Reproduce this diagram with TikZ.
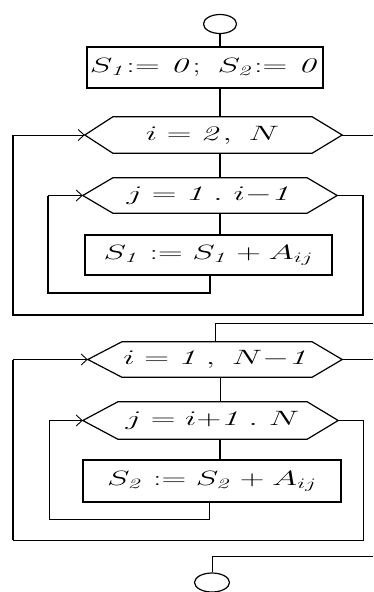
\documentclass[tikz,border=0pt]{standalone}
\usetikzlibrary{arrows.meta,shapes.geometric}
\newcommand{\drawhex}[3]{%
  \path (#1.west) ++(-#2,0) coordinate (#1-w);
  \path (#1.east) ++(#3,0) coordinate (#1-e);
  \draw[hexline] (#1.north west) -- (#1.north east) -- (#1-e) -- (#1.south east)
     -- (#1.south west) -- (#1-w) -- cycle;}
\newcommand{\hstretch}[1]{\scalebox{1.65}[1]{#1}}
\begin{document}
\begin{tikzpicture}[x=1pt,y=-1pt,
  txt/.style={font=\fontsize{22}{26}\selectfont},
  box/.style={draw, line width=1.3pt, inner sep=0pt, txt},
  hexbody/.style={inner sep=0pt, txt},
  hexline/.style={line width=1.2pt, line join=miter},
  term/.style={draw, ellipse, inner sep=0pt, line width=1.2pt},
  thk/.style={line width=1.8pt},
  thn/.style={line width=1pt},
  arr/.style={-{Straight Barb[length=6pt,width=11pt,line width=0.9pt]}}]
\useasboundingbox (0,0) rectangle (373,592);

% top part
\node[term, minimum width=33pt, minimum height=19pt] (start) at (220,24) {};
\node[box, minimum width=236pt, minimum height=41pt] (b1) at (205,67.5)
  {\hstretch{$S_{\mathit{1}}{:=}\ \mathit{0};\ S_{\mathit{2}}{:=}\ \mathit{0}$}};
\node[hexbody, minimum width=199pt, minimum height=36pt] (h1) at (212.5,135)
  {\hstretch{$i = \mathit{2},\ N$}};
\drawhex{h1}{28}{30}
\node[hexbody, minimum width=194pt, minimum height=35pt] (h2) at (210,195.5)
  {\hstretch{$j = \mathit{1}\,.\ i{-}\mathit{1}$}};
\drawhex{h2}{30}{30}
\node[box, minimum width=247pt, minimum height=40pt] (b2) at (208.5,255)
  {\hstretch{$S_{\mathit{1}} := S_{\mathit{1}} + A_{ij}$}};

\coordinate (x1) at (373,135);
\coordinate (o1) at (13,315);
\coordinate (r1) at (210,293);
\coordinate (l1) at (48,293);

\draw[thk] (start.south) -- (b1.north -| start.south);
\draw[thk] (b1.south -| start.south) -- (h1.north -| start.south);
\draw[thk] (h1.south -| start.south) -- (h2.north -| start.south);
\draw[thk] (h2.south -| start.south) -- (b2.north -| start.south);
\draw[thn] (h1-e) -- (x1);
\draw[thk] (h2-e) -- ++(26,0) |- (o1) -- (o1 |- h1-w);
\draw[thn,arr] (o1 |- h1-w) -- (h1-w);
\draw[thk] (b2.south -| r1) -- (r1) -- (l1) -- (l1 |- h2-w);
\draw[thn,arr] (l1 |- h2-w) -- (h2-w);

% bottom part
\node[hexbody, minimum width=190pt, minimum height=35pt] (h3) at (217,359.5)
  {\hstretch{$i = \mathit{1}\,,\ N{-}\mathit{1}$}};
\drawhex{h3}{34}{30}
\node[hexbody, minimum width=189pt, minimum height=37pt] (h4) at (212.5,420.5)
  {\hstretch{$j = i{+}\mathit{1}\,.\ N$}};
\drawhex{h4}{35}{31}
\node[box, minimum width=258pt, minimum height=42pt] (b3) at (212,481)
  {\hstretch{$S_{\mathit{2}} := S_{\mathit{2}} + A_{ij}$}};
\node[term, minimum width=35pt, minimum height=19pt] (end) at (212,582.5) {};

\coordinate (in2) at (373,323);
\coordinate (k2) at (215,323);
\coordinate (x2) at (373,359.5);
\coordinate (o2) at (13,540);
\coordinate (r2) at (209,519);
\coordinate (l2) at (49,519);
\coordinate (in3) at (373,556);

\draw[thn] (in2) -- (k2) -- (h3.north -| k2);
\draw[thn] (h3-e) -- (x2);
\draw[thn] (h3.south -| start.south) -- (h4.north -| start.south);
\draw[thk] (h4.south -| start.south) -- (b3.north -| start.south);
\draw[thn] (h4-e) -- ++(25,0) |- (o2);
\draw[thk] (o2) -- (o2 |- h3-w);
\draw[thn,arr] (o2 |- h3-w) -- (h3-w);
\draw[thn] (b3.south -| r2) -- (r2) -- (l2) -- (l2 |- h4-w);
\draw[thn,arr] (l2 |- h4-w) -- (h4-w);
\draw[thn] (in3) -| (end.north);
\end{tikzpicture}
\end{document}
